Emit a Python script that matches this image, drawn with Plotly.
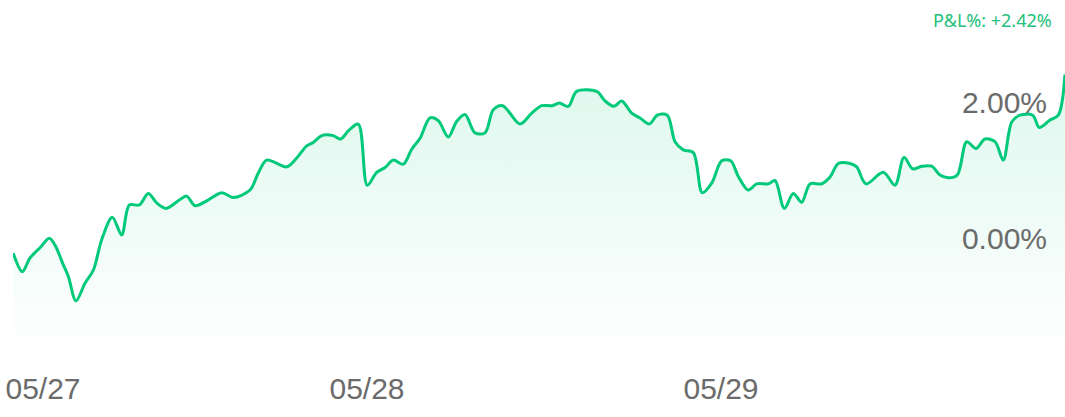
import plotly.graph_objects as go

# horizontal position of each sample (session time units) and P&L % values
t = [0.3, 9.3, 17, 27, 36.3, 42, 50.3, 55.3, 63, 72, 80.3, 88.7, 99.3, 108.7, 116.3, 126.3,
     135.3, 143.7, 153, 167, 173.7, 182, 193.7, 208.7, 220.3, 237, 245.3, 253.7, 273.7, 283.7,
     293.7, 300.3, 308.7, 320.3, 327.7, 335.3, 345.3, 354.3, 363.7, 372, 380.3, 390.3, 398.7,
     407, 417, 425.3, 435.3, 443.7, 452, 462, 472, 480.3, 489.7, 507, 518.7, 528.7, 539.3,
     546.3, 555.3, 563.7, 583.7, 592, 601, 608.7, 618.7, 627, 636.3, 644.3, 654.3, 662, 670.3,
     680.3, 689.3, 698.7, 708.7, 717.7, 725.3, 735.3, 743.7, 755.3, 762, 771.3, 780.3, 788.7,
     797, 808.7, 817, 825.3, 837, 843.7, 853, 870.3, 882, 891, 899.7, 908.7, 918.7, 927, 935.3,
     944.3, 953.7, 963, 972, 982, 990.3, 998.7, 1007, 1019.7, 1026.3, 1037, 1045.3, 1052]
pnl = [-0.21, -0.48, -0.28, -0.13, 0.01, -0.09, -0.38, -0.55, -0.91, -0.65, -0.46, -0.01, 0.32,
       0.06, 0.50, 0.50, 0.67, 0.53, 0.45, 0.58, 0.63, 0.49, 0.56, 0.68, 0.61, 0.72, 0.97, 1.16,
       1.06, 1.19, 1.37, 1.42, 1.52, 1.52, 1.47, 1.59, 1.69, 0.79, 0.98, 1.05, 1.16, 1.10, 1.32,
       1.48, 1.78, 1.74, 1.50, 1.73, 1.83, 1.56, 1.56, 1.90, 1.96, 1.69, 1.85, 1.96, 1.96, 2.00,
       1.95, 2.17, 2.17, 2.03, 1.95, 2.03, 1.85, 1.78, 1.69, 1.82, 1.82, 1.43, 1.31, 1.27, 0.68,
       0.82, 1.15, 1.15, 0.92, 0.72, 0.81, 0.81, 0.86, 0.45, 0.67, 0.54, 0.81, 0.81, 0.91, 1.11,
       1.11, 1.06, 0.81, 0.98, 0.79, 1.20, 1.03, 1.07, 1.07, 0.94, 0.90, 0.94, 1.43, 1.33, 1.47,
       1.43, 1.16, 1.72, 1.82, 1.82, 1.64, 1.75, 1.82, 2.42]

x_tick_vals = [30, 354, 708]
x_tick_text = ["05/27", "05/28", "05/29"]
y_tick_vals = [0, 2]
y_tick_text = ["0.00%", "2.00%"]
final_label = "P&L%: +2.42%"

y_min, y_max = -1.706, 3.22
green = "#00c97a"

fig = go.Figure()
fig.add_trace(go.Scatter(x=t, y=[y_min] * len(t), mode="lines", line=dict(width=0),
                         hoverinfo="skip", showlegend=False))
fig.add_trace(go.Scatter(
    x=t, y=pnl, mode="lines", fill="tonexty",
    line=dict(color=green, width=3, shape="spline", smoothing=0.9),
    fillgradient=dict(type="vertical", start=y_min, stop=max(pnl),
                      colorscale=[[0, "rgba(0,201,122,0.0)"], [1, "rgba(0,201,122,0.13)"]]),
    showlegend=False))

fig.add_annotation(text=final_label, xref="paper", yref="paper", x=0.9895, y=1.0,
                   xanchor="right", yanchor="middle", showarrow=False,
                   font=dict(size=18, color="#22c07a", family="Noto Sans"))

fig.update_layout(
    width=1065, height=417, margin=dict(l=13, r=0, t=20, b=62),
    paper_bgcolor="white", plot_bgcolor="white",
    font=dict(family="Liberation Sans", color="#6b6b6b"),
    xaxis=dict(range=[0, 1052], tickvals=x_tick_vals, ticktext=x_tick_text, showgrid=False,
               zeroline=False, showline=False, ticks="", ticklabelstandoff=13,
               tickfont=dict(size=30, color="#6b6b6b")),
    yaxis=dict(range=[y_min, y_max], tickvals=y_tick_vals, ticktext=y_tick_text, side="right",
               ticklabelposition="inside", ticklabelstandoff=15, showgrid=False, zeroline=False,
               showline=False, ticks="", tickfont=dict(size=30, color="#6b6b6b")),
)

fig.write_html("out.html", config={"displayModeBar": False},
               post_script="document.body.style.margin='0';document.body.style.overflow='hidden';")
